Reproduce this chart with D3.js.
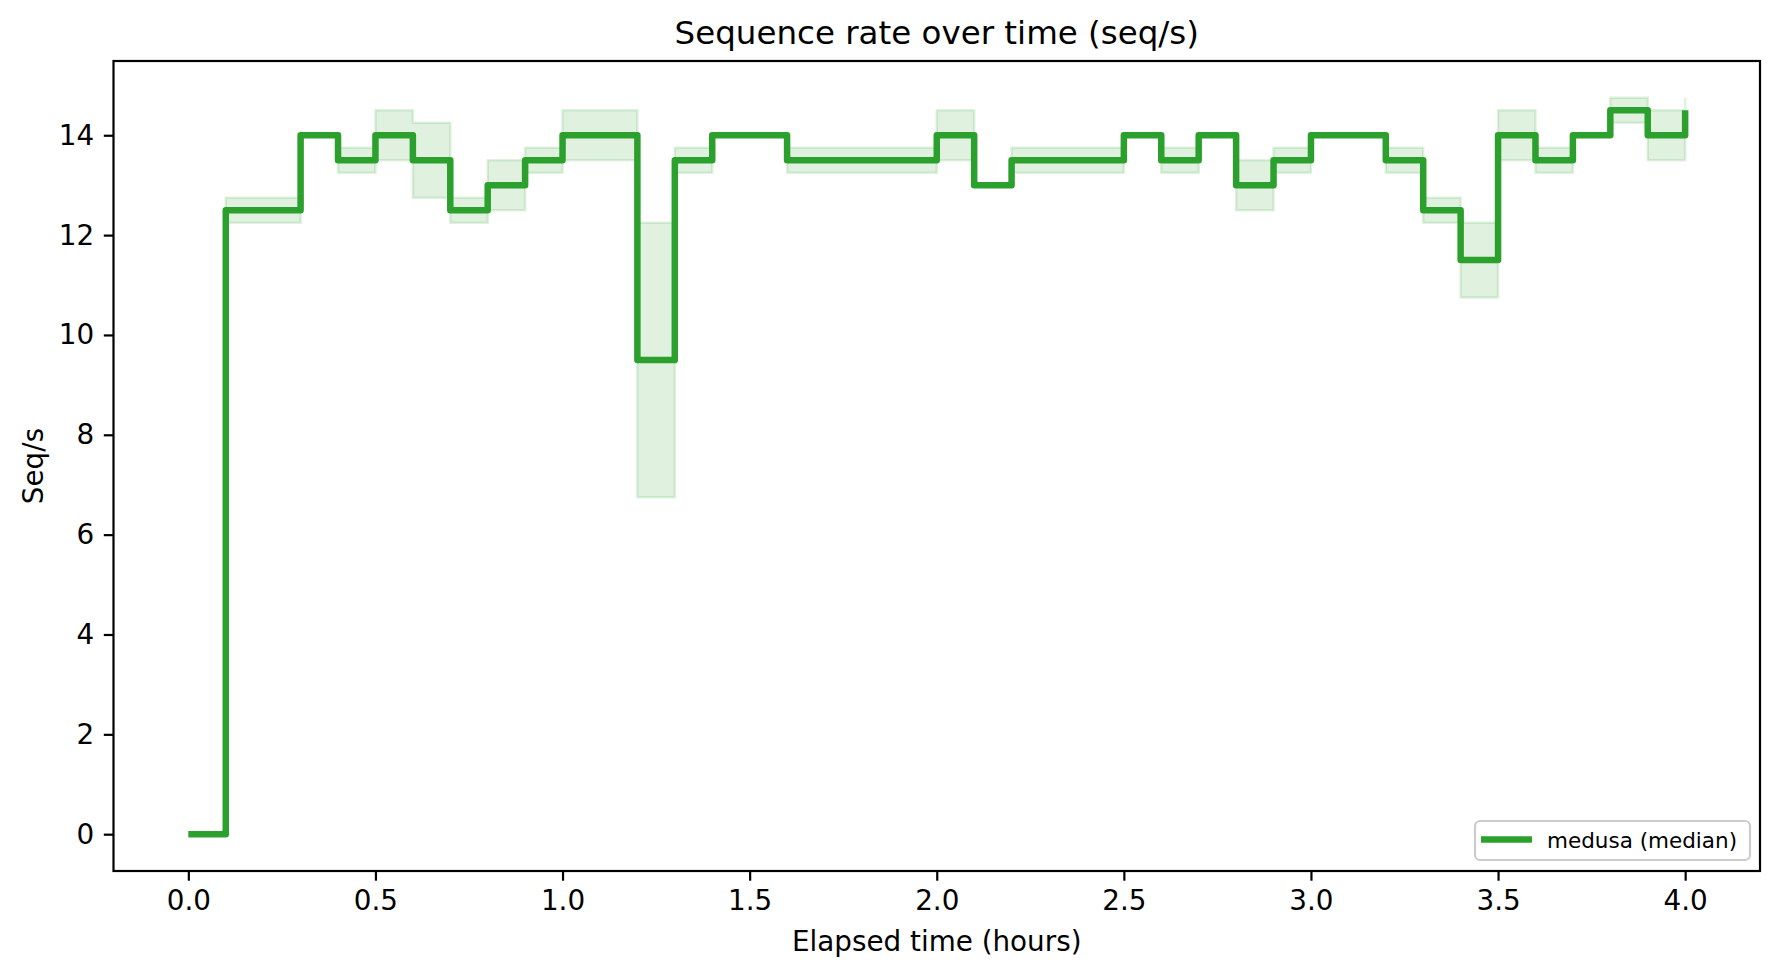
<!DOCTYPE html>
<html>
<head>
<meta charset="utf-8">
<script src="https://cdn.jsdelivr.net/npm/d3@7"></script>
<style>
  body { margin: 0; background: #fff; }
  svg text { font-family: "DejaVu Sans", sans-serif; fill: #000; }
</style>
</head>
<body>
<div id="graph"></div>
<script>
// elapsed hours, one sample every 6 minutes (plotted as steps-post)
var hours = [0.0, 0.1, 0.2, 0.3, 0.4, 0.5, 0.6, 0.7, 0.8, 0.9,
             1.0, 1.1, 1.2, 1.3, 1.4, 1.5, 1.6, 1.7, 1.8, 1.9,
             2.0, 2.1, 2.2, 2.3, 2.4, 2.5, 2.6, 2.7, 2.8, 2.9,
             3.0, 3.1, 3.2, 3.3, 3.4, 3.5, 3.6, 3.7, 3.8, 3.9, 4.0];

var median = [0, 12.5, 12.5, 14, 13.5, 14, 13.5, 12.5, 13, 13.5,
              14, 14, 9.5, 13.5, 14, 14, 13.5, 13.5, 13.5, 13.5,
              14, 13, 13.5, 13.5, 13.5, 14, 13.5, 14, 13, 13.5,
              14, 14, 13.5, 12.5, 11.5, 14, 13.5, 14, 14.5, 14, 14.5];

var lower = [0, 12.25, 12.25, 14, 13.25, 13.5, 12.75, 12.25, 12.5, 13.25,
             13.5, 13.5, 6.75, 13.25, 14, 14, 13.25, 13.25, 13.25, 13.25,
             13.5, 13, 13.25, 13.25, 13.25, 14, 13.25, 14, 12.5, 13.25,
             14, 14, 13.25, 12.25, 10.75, 13.5, 13.25, 14, 14.25, 13.5, 14.25];

var upper = [0, 12.75, 12.75, 14, 13.75, 14.5, 14.25, 12.75, 13.5, 13.75,
             14.5, 14.5, 12.25, 13.75, 14, 14, 13.75, 13.75, 13.75, 13.75,
             14.5, 13, 13.75, 13.75, 13.75, 14, 13.75, 14, 13.5, 13.75,
             14, 14, 13.75, 12.75, 12.25, 14.5, 13.75, 14, 14.75, 14.5, 14.75];

var xTicks = [0, 0.5, 1, 1.5, 2, 2.5, 3, 3.5, 4];
var yTicks = [0, 2, 4, 6, 8, 10, 12, 14];

var seriesName = "medusa (median)";
var green = "#2ca02c";

var width = 1779, height = 978;
// plot box (window.top is reserved, so no bare "top")
var plotLeft = 113.5, plotRight = 1760, plotTop = 61, plotBottom = 871;

var svg = d3.select("div#graph")
    .append("svg")
    .attr("width", width)
    .attr("height", height);

var rows = hours.map(function(h, i) {
    return {t: h, m: median[i], lo: lower[i], hi: upper[i]};
});

// matplotlib style 5% margins
var xmin = d3.min(hours), xmax = d3.max(hours);
var ymin = d3.min(lower), ymax = d3.max(upper);
var xpad = (xmax - xmin) * 0.05, ypad = (ymax - ymin) * 0.05;

var x = d3.scaleLinear().domain([xmin - xpad, xmax + xpad]).range([plotLeft, plotRight]);
var y = d3.scaleLinear().domain([ymin - ypad, ymax + ypad]).range([plotBottom, plotTop]);

var plot = svg.append("g");

// shaded band between lower and upper
var band = d3.area()
    .curve(d3.curveStepAfter)
    .x(function(d) { return x(d.t); })
    .y0(function(d) { return y(d.lo); })
    .y1(function(d) { return y(d.hi); });

plot.append("path")
    .datum(rows)
    .attr("d", band)
    .attr("fill", green)
    .attr("fill-opacity", 0.15)
    .attr("stroke", green)
    .attr("stroke-opacity", 0.15)
    .attr("stroke-width", 2.5);

// median line
var line = d3.line()
    .curve(d3.curveStepAfter)
    .x(function(d) { return x(d.t); })
    .y(function(d) { return y(d.m); });

plot.append("path")
    .datum(rows)
    .attr("d", line)
    .attr("fill", "none")
    .attr("stroke", green)
    .attr("stroke-width", 6.5)
    .attr("stroke-linejoin", "round");

// axes
var xAxis = d3.axisBottom(x)
    .tickValues(xTicks)
    .tickFormat(d3.format(".1f"))
    .tickSize(9.7)
    .tickPadding(9.7);

var yAxis = d3.axisLeft(y)
    .tickValues(yTicks)
    .tickFormat(d3.format("d"))
    .tickSize(9.7)
    .tickPadding(9.7);

var gx = svg.append("g")
    .attr("class", "axis xaxis")
    .attr("transform", "translate(0," + plotBottom + ")")
    .call(xAxis);

var gy = svg.append("g")
    .attr("class", "axis yaxis")
    .attr("transform", "translate(" + plotLeft + ",0)")
    .call(yAxis);

[gx, gy].forEach(function(g) {
    g.select(".domain").remove();
    g.selectAll(".tick line").attr("stroke", "#000").attr("stroke-width", 2.2);
    g.selectAll(".tick text").attr("font-size", 27.8).attr("fill", "#000");
});

// frame
svg.append("rect")
    .attr("x", plotLeft)
    .attr("y", plotTop)
    .attr("width", plotRight - plotLeft)
    .attr("height", plotBottom - plotTop)
    .attr("fill", "none")
    .attr("stroke", "#000")
    .attr("stroke-width", 2.2);

// titles
svg.append("text")
    .attr("x", (plotLeft + plotRight) / 2)
    .attr("y", 44)
    .attr("text-anchor", "middle")
    .attr("font-size", 32.5)
    .text("Sequence rate over time (seq/s)");

svg.append("text")
    .attr("x", (plotLeft + plotRight) / 2)
    .attr("y", 951)
    .attr("text-anchor", "middle")
    .attr("font-size", 27.8)
    .text("Elapsed time (hours)");

svg.append("text")
    .attr("transform", "translate(43," + ((plotTop + plotBottom) / 2) + ") rotate(-90)")
    .attr("text-anchor", "middle")
    .attr("font-size", 27.8)
    .text("Seq/s");

// legend
var legend = svg.append("g").attr("class", "legend");

legend.append("rect")
    .attr("x", 1475)
    .attr("y", 821)
    .attr("width", 275)
    .attr("height", 39)
    .attr("rx", 5)
    .attr("fill", "#fff")
    .attr("fill-opacity", 0.8)
    .attr("stroke", "#ccc")
    .attr("stroke-width", 2.2);

legend.append("line")
    .attr("x1", 1481)
    .attr("x2", 1532)
    .attr("y1", 839.5)
    .attr("y2", 839.5)
    .attr("stroke", green)
    .attr("stroke-width", 6.5);

legend.append("text")
    .attr("x", 1547)
    .attr("y", 847.5)
    .attr("font-size", 21.5)
    .text(seriesName);
</script>
</body>
</html>
